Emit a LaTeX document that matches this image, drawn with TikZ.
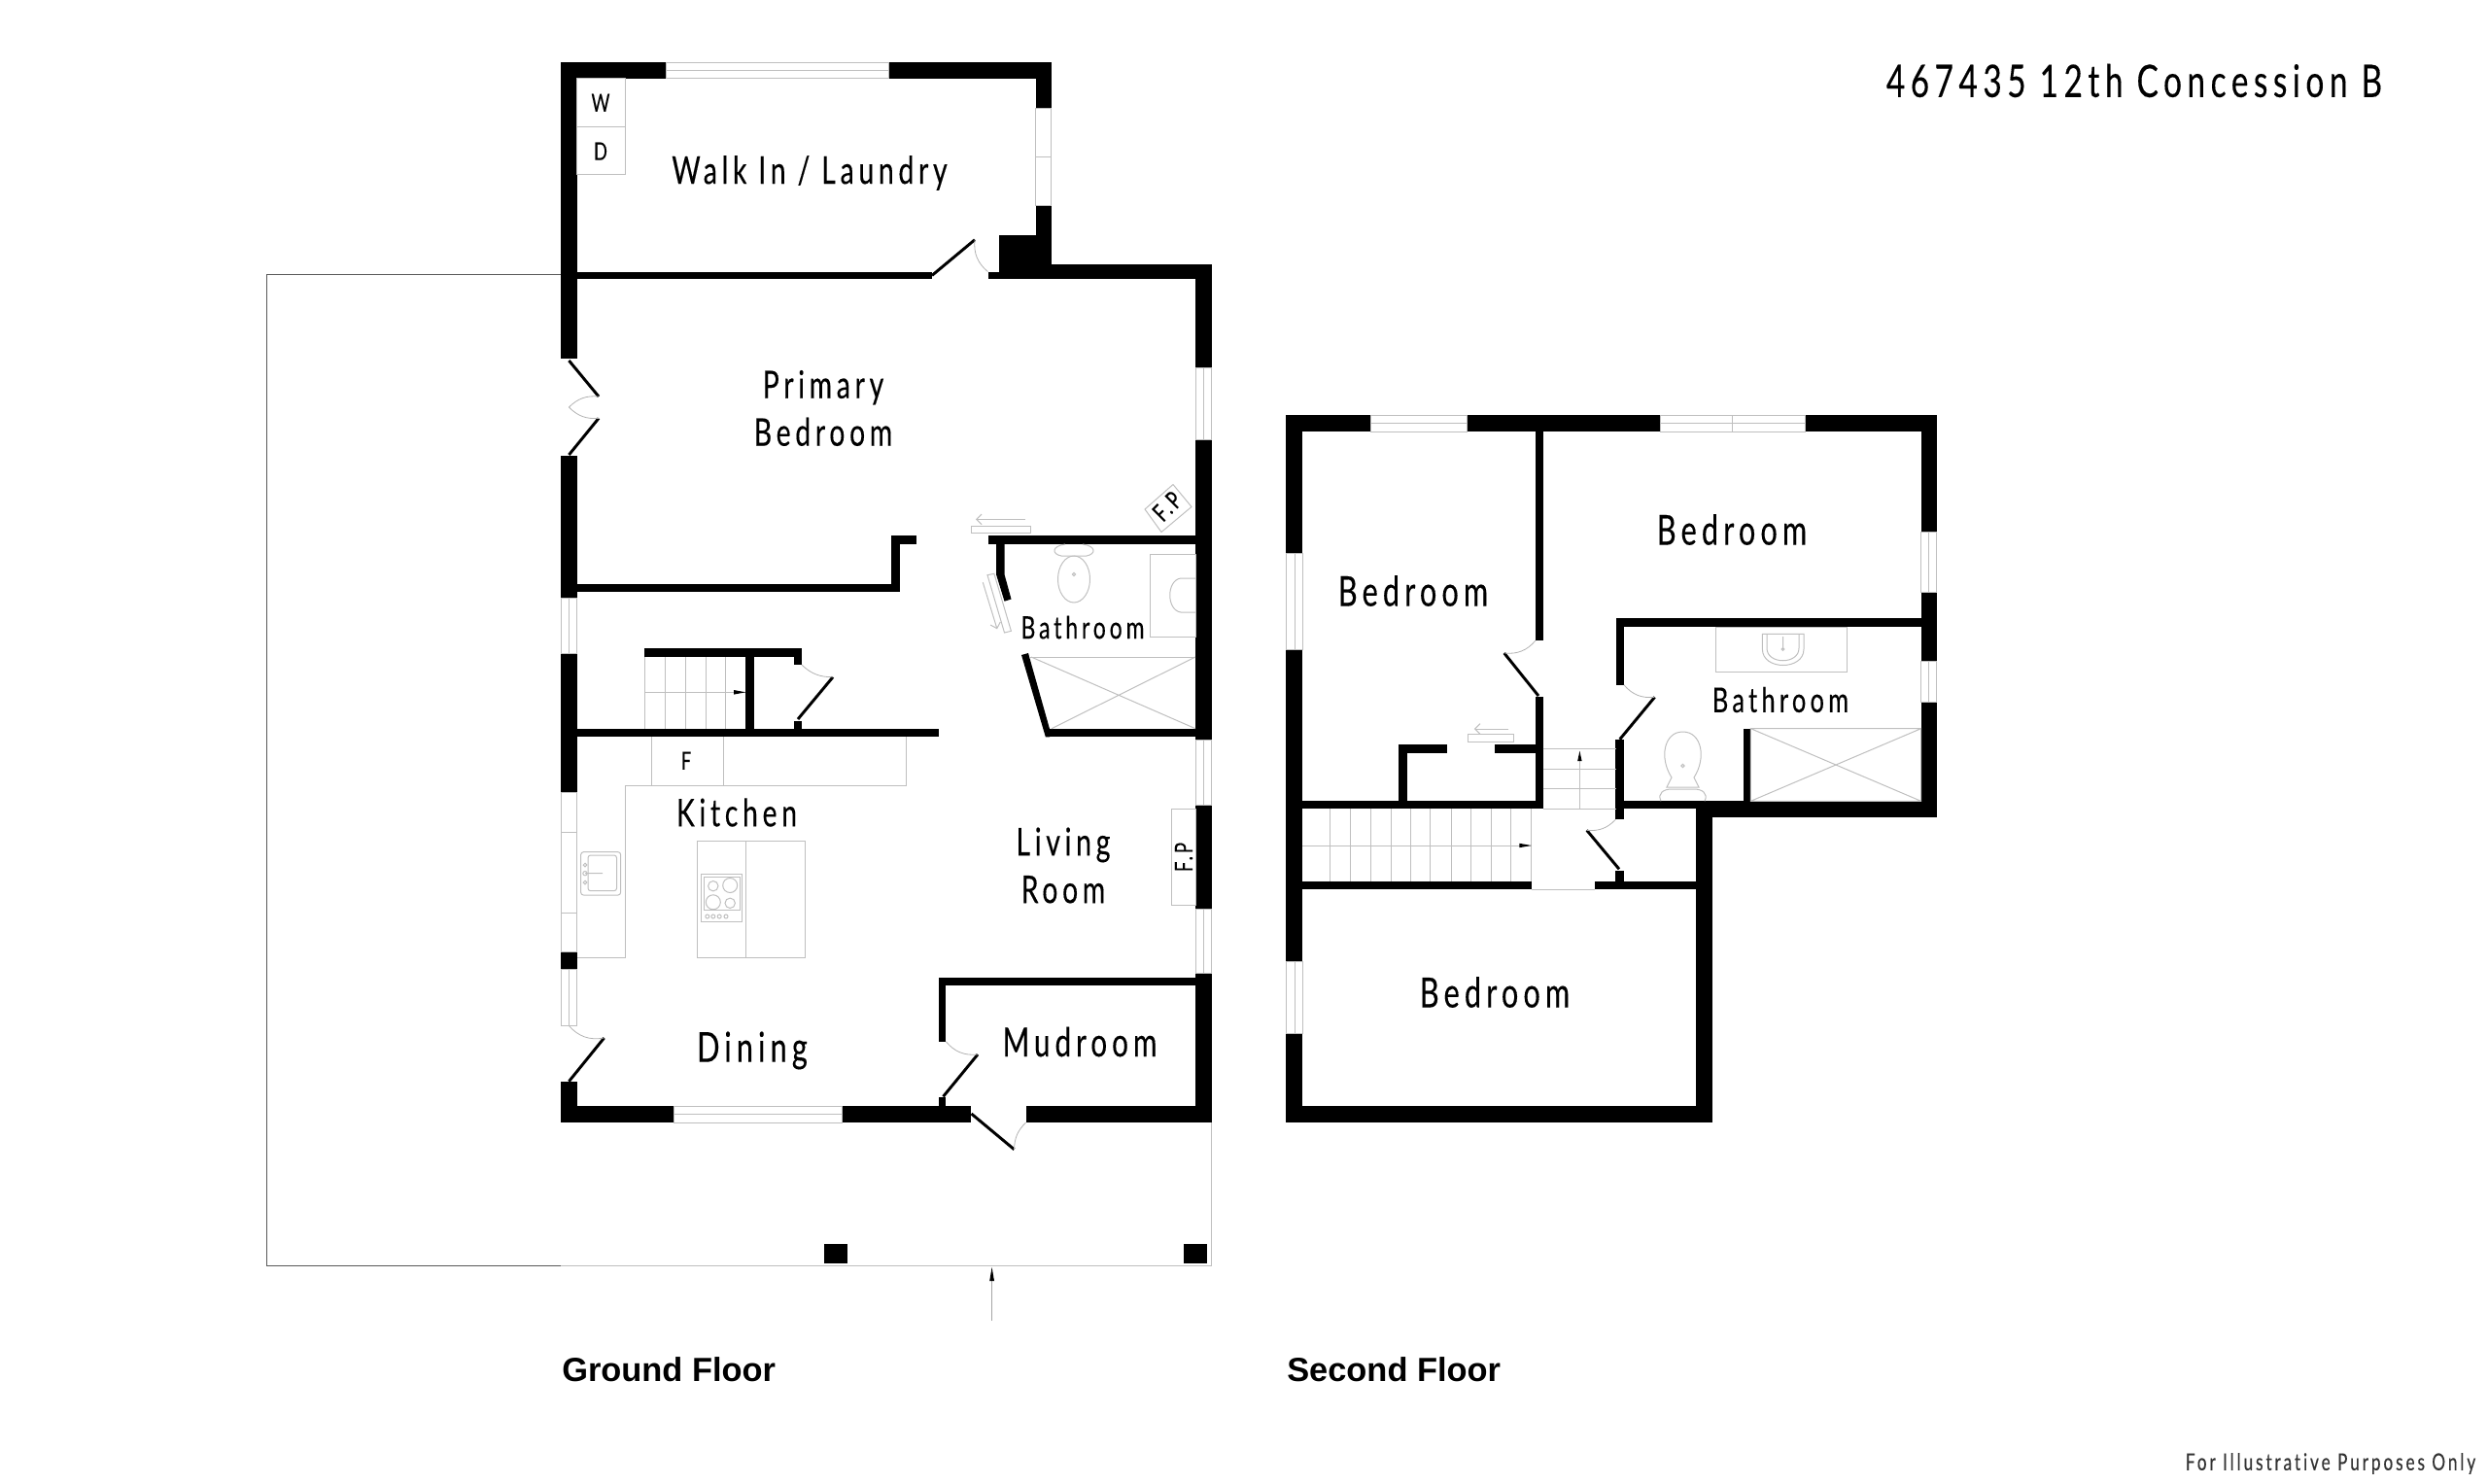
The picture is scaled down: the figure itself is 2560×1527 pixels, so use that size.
\documentclass[tikz,border=0pt]{standalone}
\usepackage{fontspec}
\setmainfont{Liberation Sans}
\newfontfamily\roomfont[FakeStretch=0.72,LetterSpace=12,FakeBold=0.25,Ligatures=NoCommon]{Lato}
\usetikzlibrary{arrows.meta}
\tikzset{
  wall/.style={fill=black,draw=none},
  doorleaf/.style={draw=black,line width=2.2pt},
  swing/.style={draw=black!30,line width=0.6pt},
  thinline/.style={draw=black!25,line width=0.75pt},
  roomlabel/.style={font=\roomfont\fontsize{32pt}{36.75pt}\selectfont,align=center,inner sep=0pt},
  smallroom/.style={font=\roomfont\fontsize{29.5pt}{36.75pt}\selectfont,align=center,inner sep=0pt},
  bathlabel/.style={font=\roomfont\fontsize{24pt}{26pt}\selectfont,inner sep=0pt},
  tinylabel/.style={font=\roomfont\fontsize{19pt}{20pt}\selectfont,inner sep=0pt},
  floorlabel/.style={font=\bfseries\fontsize{25.8pt}{28pt}\selectfont,anchor=base west,inner sep=0pt},
}
\begin{document}
\begin{tikzpicture}[x=0.75pt,y=0.75pt,yscale=-1]
\useasboundingbox (0,0) rectangle (2560,1527);

%Porch outline
\draw [black!65,line width=0.75pt] (577,282) -- (274,282) -- (274,1302.7) -- (577,1302.7) ;
\draw [thinline] (577,1302.7) -- (1246.5,1302.7) -- (1246.5,1155) ;
\fill [wall] (848,1280.3) rectangle (871.5,1300) ;
\fill [wall] (1218.3,1280.3) rectangle (1242.2,1300) ;
%Entry arrow
\draw [black!35,line width=0.75pt] (1020.6,1359) -- (1020.6,1315) ;
\fill [black] (1020.6,1304) -- (1023,1318) -- (1018.2,1318) -- cycle ;

%Ground floor, outer walls
\fill [wall] (577,64.5) rectangle (685,81) ;
\fill [wall] (914,64.5) rectangle (1081.8,81) ;
\fill [wall] (577,81) rectangle (593.6,369) ;
\fill [wall] (577,468.6) rectangle (593.6,615.2) ;
\fill [wall] (577,672.7) rectangle (593.6,815) ;
\fill [wall] (577,979.3) rectangle (593.6,997.7) ;
\fill [wall] (577,1112.7) rectangle (593.6,1155) ;
\fill [wall] (1065.7,81) rectangle (1081.8,111.6) ;
\fill [wall] (1065.7,211) rectangle (1081.8,241.5) ;
\fill [wall] (1028.4,241.5) rectangle (1081.8,279.6) ;
\fill [wall] (1016.5,279.6) rectangle (1246.5,287.4) ;
\fill [wall] (1028.4,272) rectangle (1246.5,280) ;
\fill [wall] (1230,287) rectangle (1246.5,378) ;
\fill [wall] (1230,452) rectangle (1246.5,761.7) ;
\fill [wall] (1230,828) rectangle (1246.5,935.7) ;
\fill [wall] (1230,1001.7) rectangle (1246.5,1155) ;
\fill [wall] (577,1138) rectangle (693.3,1155) ;
\fill [wall] (866.2,1138) rectangle (998.6,1155) ;
\fill [wall] (1055.6,1138) rectangle (1246.5,1155) ;

%Ground floor, inner walls
\fill [wall] (593.6,279.6) rectangle (958.6,287.4) ;
\fill [wall] (593.6,600.6) rectangle (925.5,609.4) ;
\fill [wall] (916.7,551) rectangle (925.5,600.6) ;
\fill [wall] (916.7,551) rectangle (942.5,560) ;
\fill [wall] (1016.5,551) rectangle (1230,560) ;
\fill [wall] (593.6,749.7) rectangle (966,758.3) ;
\fill [wall] (1075.8,749.7) rectangle (1230,758.3) ;
\fill [wall] (663.4,667) rectangle (824.8,676.3) ;
\fill [wall] (767.3,676) rectangle (776,750) ;
\fill [wall] (816.5,676) rectangle (824.8,684.3) ;
\fill [wall] (816.5,742) rectangle (824.8,750) ;
\fill [wall] (965.5,1005.7) rectangle (1230,1014.3) ;
\fill [wall] (965.5,1005.7) rectangle (973.3,1072.3) ;
\fill [wall] (965.5,1129.3) rectangle (973.3,1138) ;
%Bathroom angled walls
\fill [wall] (1025.2,560) -- (1033.5,560) -- (1033.5,591) -- (1040.5,616.5) -- (1033.5,618.7) -- (1025.2,591.7) -- cycle ;
\fill [wall] (1051,674) -- (1058,672) -- (1080,750) -- (1080,758.3) -- (1075.8,758.3) -- cycle ;

%Doors
\draw [doorleaf] (959,283.4) -- (1003,246.7) ;
\draw [swing] (1003,246.7) to [bend left=28] (1016.5,279.6) ;
\draw [doorleaf] (585.4,371) -- (616,408) ;
\draw [doorleaf] (585.4,468) -- (616,430.4) ;
\draw [swing] (616,408) to [bend left=25] (585.4,419) ;
\draw [swing] (616,430.4) to [bend right=25] (585.4,419) ;
\draw [doorleaf] (821,740) -- (857,696.7) ;
\draw [swing] (824.8,684) to [bend left=22] (857,696.7) ;
\draw [doorleaf] (585.4,1112.7) -- (621.6,1068) ;
\draw [swing] (585,1055) to [bend left=30] (621.6,1068) ;
\draw [doorleaf] (970.5,1128.3) -- (1006,1085) ;
\draw [swing] (973.3,1071.7) to [bend left=28] (1006,1085) ;
\draw [doorleaf] (999.5,1146) -- (1043.5,1182.7) ;
\draw [swing] (1043.5,1182.7) to [bend right=22] (1055.6,1155) ;

%Windows, ground floor
\draw [thinline] (685,64.5) rectangle (914,81) (685,72.7) -- (914,72.7) ;
\draw [thinline] (1065.7,111.6) rectangle (1081.8,211) (1065.7,161.7) -- (1081.8,161.7) ;
\draw [thinline] (1230,378) rectangle (1246.5,452) (1238.2,378) -- (1238.2,452) ;
\draw [thinline] (1230,761.7) rectangle (1246.5,828) (1238.2,761.7) -- (1238.2,828) ;
\draw [thinline] (1230,935.7) rectangle (1246.5,1001.7) (1238.2,935.7) -- (1238.2,1001.7) ;
\draw [thinline] (577,615.2) rectangle (593.6,672.7) (585.3,615.2) -- (585.3,672.7) ;
\draw [thinline] (577,815) rectangle (593.6,979.3) (577,856) -- (593.6,856) (577,939) -- (593.6,939) ;
\draw [thinline] (577,997.7) rectangle (593.6,1055) (585.3,997.7) -- (585.3,1055) ;
\draw [thinline] (693.3,1138) rectangle (866.2,1155) (693.3,1146.5) -- (866.2,1146.5) ;

%Laundry and counters
\draw [thinline] (593.6,81) rectangle (643.7,179.7) (593.6,130.7) -- (643.7,130.7) ;
\draw [thinline] (670.8,758.3) -- (670.8,808) (744.3,758.3) -- (744.3,808) ;
\draw [thinline] (932.4,758.3) -- (932.4,808) -- (643.7,808) -- (643.7,985.3) -- (593.6,985.3) ;
%Kitchen sink
\draw [thinline,rounded corners=2pt] (597.7,876.7) rectangle (638.6,921) ;
\draw [thinline,rounded corners=2pt] (605,880) rectangle (634.5,916.7) ;
\draw [thinline] (602,898.7) circle (2.2) (602,890) circle (1.8) (602,908) circle (1.8) (602,898.7) -- (620,898.7) ;
%Island and cooktop
\draw [thinline] (717.7,865.3) rectangle (828.9,985.3) (767.8,865.3) -- (767.8,985.3) ;
\draw [thinline] (721.4,899.7) rectangle (763.6,948) (724.5,902) rectangle (761,936) ;
\draw [thinline] (733.8,911.7) circle (5.2) (751.2,911) circle (7.5) (733.8,928.3) circle (7.5) (751.2,929.3) circle (5.2) ;
\foreach \knobx in {727.8,733.8,740.2,747}
  \draw [thinline] (\knobx,943) circle (2) ;

%Stairs, ground floor
\foreach \treadx in {663.4,684.1,705.7,726,746.2}
  \draw [thinline] (\treadx,676.3) -- (\treadx,749.7) ;
\draw [thinline] (663.4,712.3) -- (767.3,712.3) ;
\fill [black] (767.3,712.3) -- (755,710) -- (755,714.6) -- cycle ;

%Ground floor bathroom
\draw [thinline] (1096,560) .. controls (1082,562) and (1082,570) .. (1092,572) -- (1118,572) .. controls (1128,570) and (1128,562) .. (1114,560) ;
\draw [thinline] (1105,596) ellipse (16.5 and 24) ;
\draw [thinline] (1105,591) circle (1.6) ;
\draw [thinline] (1183.8,570) rectangle (1230,655.7) ;
\draw [thinline] (1230,595) -- (1215,595) .. controls (1200,597) and (1200,628) .. (1215,630) -- (1230,630) ;
\draw [thinline] (1060,676) -- (1230,676) ;
\draw [thinline] (1061,676) -- (1230,749.7) (1230,676) -- (1082,749.7) ;
%Sliding door symbols
\draw [thinline] (1016,591.7) -- (1022.9,590.3) -- (1040.4,649.3) -- (1033.5,651) -- cycle ;
\draw [thinline,-{Straight Barb[length=4pt]}] (1011.3,599.3) -- (1026,647.3) ;
\draw [thinline] (999,541.3) rectangle (1060,548.6) ;
\draw [thinline,-{Straight Barb[length=4pt]}] (1054.5,534.4) -- (1004,534.4) ;
%Fireplaces
\draw [thinline] (1178,524) -- (1207,498.5) -- (1226,521.5) -- (1195,547.5) -- cycle ;
\draw [thinline] (1205,832.3) rectangle (1230,931.7) ;

%Second floor, outer walls
\fill [wall] (1323.3,427.3) rectangle (1410.7,444.3) ;
\fill [wall] (1509.5,427.3) rectangle (1708,444.3) ;
\fill [wall] (1857,427.3) rectangle (1992.7,444.3) ;
\fill [wall] (1323.3,444) rectangle (1340,569.3) ;
\fill [wall] (1323.3,668.3) rectangle (1340,989.3) ;
\fill [wall] (1323.3,1063.3) rectangle (1340,1155) ;
\fill [wall] (1976.6,444) rectangle (1992.7,547.7) ;
\fill [wall] (1976.6,609.3) rectangle (1992.7,680.7) ;
\fill [wall] (1976.6,722.7) rectangle (1992.7,841) ;
\fill [wall] (1745,832.3) rectangle (1992.7,841) ;
\fill [wall] (1745,832.3) rectangle (1761.7,1155) ;
\fill [wall] (1323.3,1138) rectangle (1761.7,1155) ;

%Second floor, inner walls
\fill [wall] (1579.8,444) rectangle (1587.7,659) ;
\fill [wall] (1579.8,716.7) rectangle (1587.7,832.3) ;
\fill [wall] (1323.3,824.3) rectangle (1587.7,832.3) ;
\fill [wall] (1663,824.3) rectangle (1992.7,832.3) ;
\fill [wall] (1439.2,766.3) rectangle (1489.3,775.3) ;
\fill [wall] (1439.2,766.3) rectangle (1447.9,824.3) ;
\fill [wall] (1538,766.3) rectangle (1580,775.3) ;
\fill [wall] (1663,636.3) rectangle (1992.7,645.3) ;
\fill [wall] (1663,636.3) rectangle (1670.9,704.7) ;
\fill [wall] (1662.3,761.3) rectangle (1670.7,843.3) ;
\fill [wall] (1793.6,749.7) rectangle (1801.4,824.3) ;
\fill [wall] (1323.3,906.7) rectangle (1575.7,915) ;
\fill [wall] (1641.3,906.7) rectangle (1745,915) ;
\fill [wall] (1662.3,896) rectangle (1670.7,906.7) ;

%Doors
\draw [doorleaf] (1583,716) -- (1547.7,672) ;
\draw [swing] (1547.7,672) to [bend left=28] (1580,659) ;
\draw [doorleaf] (1666.7,760.7) -- (1702.6,717.3) ;
\draw [swing] (1670.9,704.7) to [bend left=28] (1702.6,717.3) ;
\draw [doorleaf] (1666,894.3) -- (1632.7,854.3) ;
\draw [swing] (1632.7,854.3) to [bend left=26] (1662.3,843.3) ;

%Windows, second floor
\draw [thinline] (1410.7,427.3) rectangle (1509.5,444.3) (1410.7,435.8) -- (1509.5,435.8) ;
\draw [thinline] (1708,427.3) rectangle (1857,444.3) (1708,435.8) -- (1857,435.8) (1782,427.3) -- (1782,444.3) ;
\draw [thinline] (1323.3,569.3) rectangle (1340,668.3) (1332,569.3) -- (1332,668.3) ;
\draw [thinline] (1323.3,989.3) rectangle (1340,1063.3) (1332,989.3) -- (1332,1063.3) ;
\draw [thinline] (1976.6,547.7) rectangle (1992.7,609.3) (1984.6,547.7) -- (1984.6,609.3) ;
\draw [thinline] (1976.6,680.7) rectangle (1992.7,722.7) (1984.6,680.7) -- (1984.6,722.7) ;

%Closet sliding door
\draw [thinline] (1510.9,755.7) rectangle (1557.8,763.3) ;
\draw [thinline,-{Straight Barb[length=4pt]}] (1552.3,750) -- (1516.9,750) ;

%Stairs, second floor
\foreach \risey in {770.3,791,811.7,832.3}
  \draw [thinline] (1587.7,\risey) -- (1663,\risey) ;
\draw [thinline] (1625.4,832.3) -- (1625.4,782) ;
\fill [black] (1625.4,772.7) -- (1627.6,783) -- (1623.2,783) -- cycle ;
\foreach \treadx in {1368.3,1389.3,1410,1431,1451.3,1471.7,1493.3,1513.3,1534,1554.7,1575.7}
  \draw [thinline] (\treadx,832.3) -- (\treadx,906.7) ;
\draw [thinline] (1340,870) -- (1575.7,870) ;
\fill [black] (1575.7,870) -- (1563.3,867.8) -- (1563.3,872.2) -- cycle ;
\draw [thinline] (1575.7,915) -- (1641.3,915) ;

%Second floor bathroom
\draw [thinline] (1765,645.3) rectangle (1900,691.7) ;
\draw [thinline] (1813.4,652.3) -- (1813.4,668) .. controls (1813.4,690) and (1856,690) .. (1856,668) -- (1856,652.3) -- cycle ;
\draw [thinline] (1818,652.3) -- (1818,667) .. controls (1818,684) and (1851,684) .. (1851,667) -- (1851,652.3) ;
\draw [thinline] (1834.5,655) -- (1834.5,668) (1834.5,668) circle (1.5) ;
\draw [thinline] (1801.4,749.7) rectangle (1976.6,824.3) (1801.4,749.7) -- (1976.6,824.3) (1976.6,749.7) -- (1801.4,824.3) ;
\draw [thinline] (1720,800) .. controls (1707,780) and (1712,753) .. (1731.5,753) .. controls (1751,753) and (1756,780) .. (1743,800) -- (1748,810) -- (1715,810) -- cycle ;
\draw [thinline] (1731.5,788) circle (1.6) ;
\draw [thinline] (1709,824.3) .. controls (1705,816) and (1712,812) .. (1720,812) -- (1743,812) .. controls (1751,812) and (1758,816) .. (1754,824.3) ;

% Text Node
\node [smallroom] (laundry) at (833,178) {Walk In / Laundry};
\node [smallroom] (primary) at (847,420) {Primary\\Bedroom};
\node [bathlabel] (bathground) at (1114,645.5) {Bathroom};
\node [smallroom] (kitchen) at (758,836) {Kitchen};
\node [smallroom] (living) at (1094,890.5) {Living\\Room};
\node [roomlabel] (dining) at (774,1081) {Dining};
\node [roomlabel,font=\roomfont\fontsize{31pt}{36pt}\selectfont] (mudroom) at (1111,1072) {Mudroom};
\node [tinylabel] (washer) at (618,105.8) {W};
\node [tinylabel] (dryer) at (618,155.6) {D};
\node [tinylabel] (fridge) at (706,782.7) {F};
\node [tinylabel,rotate=45] (fpprimary) at (1201,521) {F.P};
\node [tinylabel,rotate=90] (fpliving) at (1218,882) {F.P};
\node [roomlabel] (bedroomone) at (1454,608) {Bedroom};
\node [roomlabel] (bedroomtwo) at (1782,545) {Bedroom};
\node [roomlabel] (bedroomthree) at (1538,1021) {Bedroom};
\node [bathlabel,font=\roomfont\fontsize{26.5pt}{28pt}\selectfont] (bathupper) at (1832,720) {Bathroom};
\node [floorlabel] (groundfloor) at (578,1421) {Ground Floor};
\node [floorlabel] (secondfloor) at (1324,1421) {Second Floor};
\node [roomlabel,font=\roomfont\fontsize{34.7pt}{36pt}\selectfont] (address) at (2196,83) {467435 12th Concession B};
\node [roomlabel,font=\roomfont\fontsize{18pt}{18pt}\selectfont,text=black!80] (disclaimer) at (2398,1506) {For Illustrative Purposes Only};

\end{tikzpicture}
\end{document}
